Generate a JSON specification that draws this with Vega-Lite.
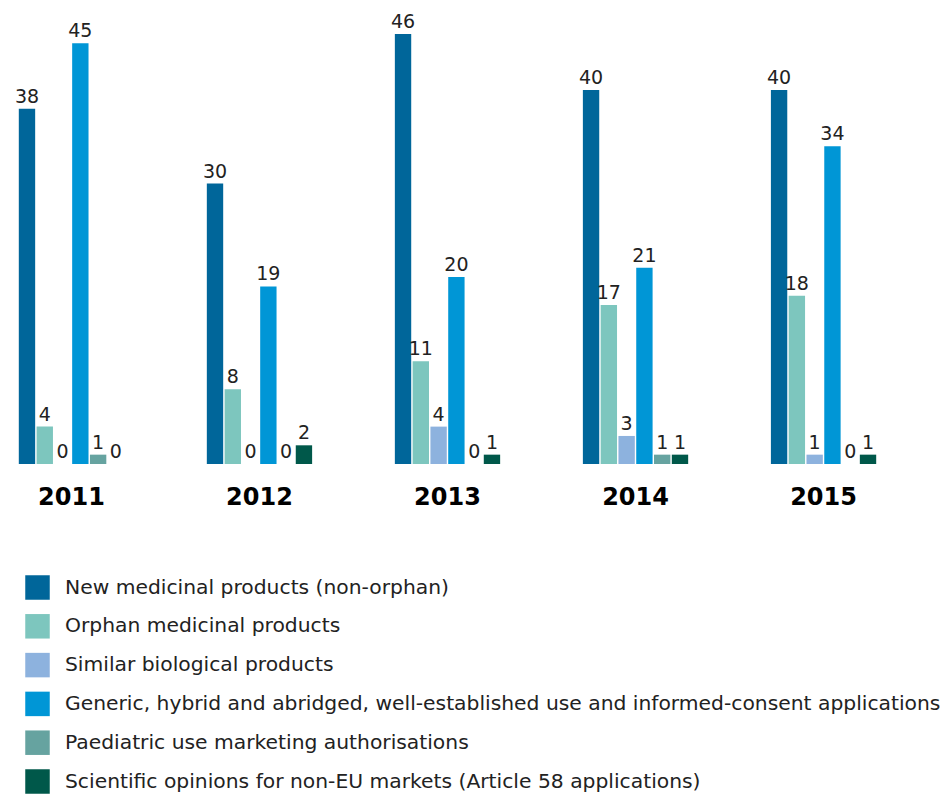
{
  "$schema": "https://vega.github.io/schema/vega-lite/v6.json",
  "width": 895,
  "height": 430,
  "autosize": "none",
  "padding": {"left": 0, "top": 34, "right": 46, "bottom": 334},
  "background": "white",
  "config": {"view": {"stroke": null}, "font": "DejaVu Sans"},
  "data": {"values": [
    {"year": "2011", "cat": "New medicinal products (non-orphan)", "v": 38},
    {"year": "2011", "cat": "Orphan medicinal products", "v": 4},
    {"year": "2011", "cat": "Similar biological products", "v": 0},
    {"year": "2011", "cat": "Generic, hybrid and abridged, well-established use and informed-consent applications", "v": 45},
    {"year": "2011", "cat": "Paediatric use marketing authorisations", "v": 1},
    {"year": "2011", "cat": "Scientific opinions for non-EU markets (Article 58 applications)", "v": 0},
    {"year": "2012", "cat": "New medicinal products (non-orphan)", "v": 30},
    {"year": "2012", "cat": "Orphan medicinal products", "v": 8},
    {"year": "2012", "cat": "Similar biological products", "v": 0},
    {"year": "2012", "cat": "Generic, hybrid and abridged, well-established use and informed-consent applications", "v": 19},
    {"year": "2012", "cat": "Paediatric use marketing authorisations", "v": 0},
    {"year": "2012", "cat": "Scientific opinions for non-EU markets (Article 58 applications)", "v": 2},
    {"year": "2013", "cat": "New medicinal products (non-orphan)", "v": 46},
    {"year": "2013", "cat": "Orphan medicinal products", "v": 11},
    {"year": "2013", "cat": "Similar biological products", "v": 4},
    {"year": "2013", "cat": "Generic, hybrid and abridged, well-established use and informed-consent applications", "v": 20},
    {"year": "2013", "cat": "Paediatric use marketing authorisations", "v": 0},
    {"year": "2013", "cat": "Scientific opinions for non-EU markets (Article 58 applications)", "v": 1},
    {"year": "2014", "cat": "New medicinal products (non-orphan)", "v": 40},
    {"year": "2014", "cat": "Orphan medicinal products", "v": 17},
    {"year": "2014", "cat": "Similar biological products", "v": 3},
    {"year": "2014", "cat": "Generic, hybrid and abridged, well-established use and informed-consent applications", "v": 21},
    {"year": "2014", "cat": "Paediatric use marketing authorisations", "v": 1},
    {"year": "2014", "cat": "Scientific opinions for non-EU markets (Article 58 applications)", "v": 1},
    {"year": "2015", "cat": "New medicinal products (non-orphan)", "v": 40},
    {"year": "2015", "cat": "Orphan medicinal products", "v": 18},
    {"year": "2015", "cat": "Similar biological products", "v": 1},
    {"year": "2015", "cat": "Generic, hybrid and abridged, well-established use and informed-consent applications", "v": 34},
    {"year": "2015", "cat": "Paediatric use marketing authorisations", "v": 0},
    {"year": "2015", "cat": "Scientific opinions for non-EU markets (Article 58 applications)", "v": 1}
  ]},
  "encoding": {
    "x": {"field": "year", "type": "nominal",
      "scale": {"paddingInner": 0.44, "paddingOuter": 0.1},
      "axis": {"title": null, "labelAngle": 0, "domain": false, "ticks": false,
        "labelFontSize": 24, "labelFontWeight": "bold", "labelColor": "#000",
        "labelPadding": 21, "labelFont": "DejaVu Sans"}},
    "xOffset": {"field": "cat", "type": "nominal",
      "scale": {"domain": [
        "New medicinal products (non-orphan)",
        "Orphan medicinal products",
        "Similar biological products",
        "Generic, hybrid and abridged, well-established use and informed-consent applications",
        "Paediatric use marketing authorisations",
        "Scientific opinions for non-EU markets (Article 58 applications)"],
        "paddingInner": 0.08, "paddingOuter": 0}},
    "y": {"field": "v", "type": "quantitative",
      "scale": {"domain": [0, 46], "nice": false, "zero": true},
      "axis": null}
  },
  "layer": [
    {
      "mark": {"type": "bar"},
      "encoding": {
        "color": {"field": "cat", "type": "nominal",
          "scale": {"domain": [
            "New medicinal products (non-orphan)",
            "Orphan medicinal products",
            "Similar biological products",
            "Generic, hybrid and abridged, well-established use and informed-consent applications",
            "Paediatric use marketing authorisations",
            "Scientific opinions for non-EU markets (Article 58 applications)"],
            "range": ["#00669A", "#7DC6BE", "#8DB2DE", "#0096D6", "#66A3A0", "#00584A"]},
          "legend": {"title": null, "orient": "none", "legendX": 25, "legendY": 541,
            "symbolType": "square", "symbolSize": 600, "symbolStrokeWidth": 0,
            "labelFontSize": 20.3, "labelColor": "#222", "labelLimit": 0,
            "labelOffset": 15, "rowPadding": 13.8, "labelFont": "DejaVu Sans"}}
      }
    },
    {
      "mark": {"type": "text", "baseline": "bottom", "dy": -2, "fontSize": 19, "color": "#222", "font": "DejaVu Sans"},
      "encoding": {"text": {"field": "v", "type": "quantitative"}}
    }
  ]
}
